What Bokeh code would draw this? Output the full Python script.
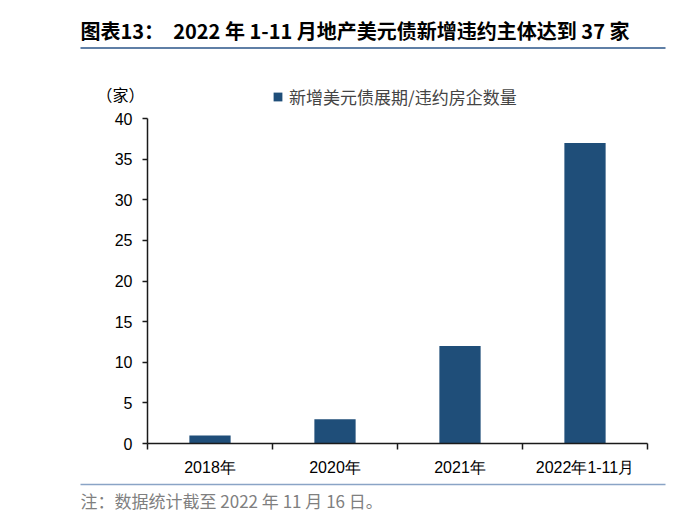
import numpy as np
from bokeh.plotting import figure
from bokeh.models import (Range1d, FixedTicker, Label, Legend, LegendItem, Title,
                          ColumnDataSource, BoxAnnotation, LinearAxis)
from bokeh.embed import file_html
from bokeh.resources import INLINE

# ---- data ----
categories = ["2018年", "2020年", "2021年", "2022年1-11月"]
values = [1, 3, 12, 37]
y_ticks = [0, 5, 10, 15, 20, 25, 30, 35, 40]
series_name = "新增美元债展期/违约房企数量"
title_text = "图表13：\u00a0\u00a02022 年 1-11 月地产美元债新增违约主体达到 37 家"
unit_text = "（家）"
note_text = "注：数据统计截至 2022 年 11 月 16 日。"

BAR = "#1f4e79"
CJK = "Noto Sans CJK SC"
LAT = "Liberation Sans"

# ---- layout constants (pixels) ----
W, H = 680, 515
FRAME_L, FRAME_R, FRAME_T, FRAME_B = 40, 670, 45, 484
AX_X0, AX_X1 = 147, 647          # category axis ends
Y0_PX, Y_TOP_PX = 443, 118       # pixels of y = 0 and y = 40
Y_MAX = 40

n = len(categories)
ppc = (AX_X1 - AX_X0) / n
x_start = -(AX_X0 - FRAME_L) / ppc
x_end = n + (FRAME_R - AX_X1) / ppc
ppu = (Y0_PX - Y_TOP_PX) / Y_MAX
y_start = -(FRAME_B - Y0_PX) / ppu
y_end = (Y0_PX - FRAME_T) / ppu

centers = list(np.arange(n) + 0.5)
bounds = list(np.arange(n + 1).astype(float))

src = ColumnDataSource(dict(x=centers, top=values, cat=categories))

p = figure(width=W, height=H, output_backend="svg", toolbar_location=None,
           x_range=Range1d(x_start, x_end), y_range=Range1d(y_start, y_end),
           min_border_left=FRAME_L, min_border_right=W - FRAME_R,
           min_border_top=FRAME_T, min_border_bottom=H - FRAME_B,
           background_fill_color="white", border_fill_color="white")
p.outline_line_color = None
p.grid.visible = False

bars = p.vbar(x="x", top="top", bottom=0, width=0.33, source=src,
              fill_color=BAR, line_color=None)

for ax in (p.xaxis[0], p.yaxis[0]):
    ax.axis_line_color = "#1a1a1a"
    ax.axis_line_width = 1.5
    ax.major_label_text_font = LAT
    ax.major_label_text_font_size = "16px"
    ax.major_label_text_color = "black"

yax = p.yaxis[0]
yax.fixed_location = 0
yax.bounds = (0, Y_MAX)
yax.ticker = FixedTicker(ticks=y_ticks)
yax.major_tick_in = 0
yax.major_tick_out = 5
yax.major_tick_line_color = "#1a1a1a"
yax.major_tick_line_width = 1.5
yax.minor_tick_line_color = None
yax.major_label_standoff = 10

xax = p.xaxis[0]
xax.fixed_location = 0
xax.bounds = (0, n)
xax.ticker = FixedTicker(ticks=centers, minor_ticks=bounds)
xax.major_tick_line_color = None
xax.minor_tick_line_color = "#1a1a1a"
xax.minor_tick_line_width = 1.5
xax.minor_tick_in = 0
xax.minor_tick_out = 6
xax.major_label_standoff = 9
xax.major_label_overrides = {float(c): lab for c, lab in zip(centers, categories)}

# separator line above the note (axis line only, at the frame bottom)
LINE_X0, LINE_X1 = 80, 665
sep = LinearAxis(ticker=FixedTicker(ticks=[]),
                 bounds=((LINE_X0 - AX_X0) / ppc, (LINE_X1 - AX_X0) / ppc),
                 axis_line_color="#8aa4c6", axis_line_width=1.5,
                 major_tick_line_color=None, minor_tick_line_color=None,
                 major_tick_out=0, minor_tick_out=0,
                 major_label_text_font_size="0px")
p.add_layout(sep, "below")

note = Title(text=note_text, align="left", offset=80 - FRAME_L, standoff=2,
             text_font=CJK, text_font_size="17px", text_font_style="normal",
             text_color="#7f7f7f")
p.add_layout(note, "below")

# main title
p.title.text = title_text
p.title.align = "left"
p.title.offset = 80 - FRAME_L
p.title.standoff = 2
p.title.text_font = CJK
p.title.text_font_size = "20px"
p.title.text_font_style = "bold"
p.title.text_color = "black"

# underline of the title (inside the frame, top band)
p.add_layout(BoxAnnotation(left=LINE_X0 - FRAME_L, right=LINE_X1 - FRAME_L,
                           top=FRAME_B - 46.5, bottom=FRAME_B - 48.5,
                           left_units="screen", right_units="screen",
                           top_units="screen", bottom_units="screen",
                           fill_color="#5f7fa6", fill_alpha=1, line_color=None))

# unit label
p.add_layout(Label(x=96 - FRAME_L, y=FRAME_B - 93, x_units="screen", y_units="screen",
                   text=unit_text, text_font=CJK, text_font_size="16px",
                   text_color="black", text_baseline="middle"))

legend = Legend(items=[LegendItem(label=series_name, renderers=[bars])],
                location=(272 - FRAME_L, FRAME_B - 109), orientation="horizontal",
                glyph_width=11, glyph_height=11, label_standoff=6,
                label_text_font=CJK, label_text_font_size="17px", label_height=18,
                padding=0, margin=0, border_line_color=None, background_fill_alpha=0)
p.add_layout(legend, "center")

open("out.html", "w").write(file_html(p, INLINE))
